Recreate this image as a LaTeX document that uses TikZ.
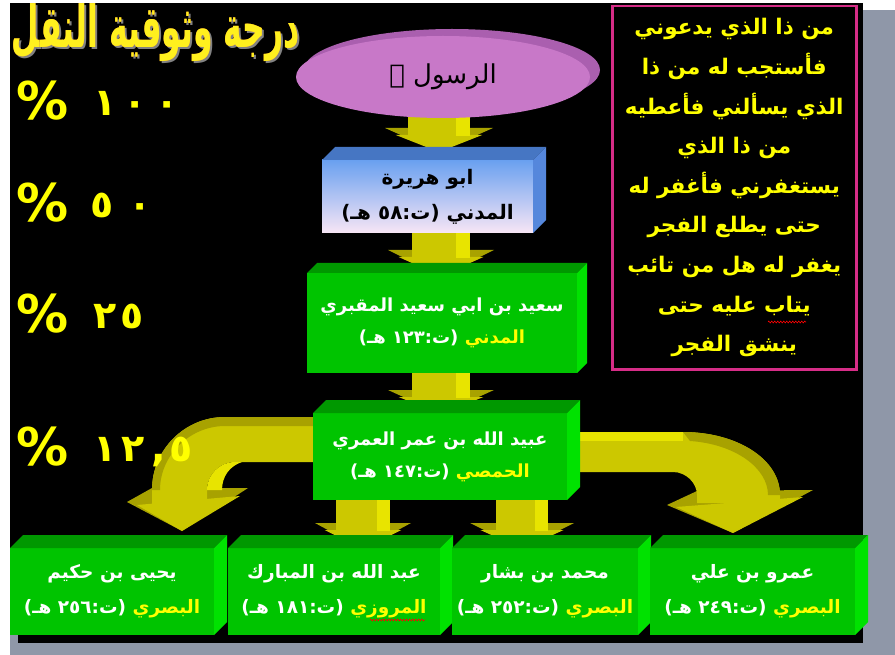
\documentclass[tikz,border=0pt]{standalone}
\usepackage{fontspec}
\usepackage{graphicx}
\usetikzlibrary{fadings,calc,shapes.geometric,decorations.pathmorphing}
\TeXXeTstate=1
\newfontfamily\arfont[Script=Arabic]{DejaVu Sans}
\newfontfamily\numfont{DejaVu Sans}
\newcommand\AR[1]{{\arfont\beginR #1\endR}}
\definecolor{shadowgray}{RGB}{143,151,168}
\definecolor{gfront}{RGB}{0,196,0}
\definecolor{gtop}{RGB}{0,152,0}
\definecolor{gside}{RGB}{0,226,0}
\definecolor{bfronttop}{RGB}{105,160,240}
\definecolor{bfrontbot}{RGB}{248,230,245}
\definecolor{btop}{RGB}{70,118,195}
\definecolor{bside}{RGB}{85,135,220}
\definecolor{arrmain}{RGB}{204,200,0}
\definecolor{arrlight}{RGB}{232,228,0}
\definecolor{arrdark}{RGB}{168,162,0}
\definecolor{ellfront}{RGB}{200,120,200}
\definecolor{ellback}{RGB}{170,95,175}
\definecolor{txtyellow}{RGB}{255,255,0}
\definecolor{framepink}{RGB}{214,45,135}
\definecolor{titleorange}{RGB}{255,145,40}
\definecolor{titleyellow}{RGB}{255,240,30}
\definecolor{titleshadow}{RGB}{130,130,130}
\tikzfading[name=midfade, left color=transparent!100, middle color=transparent!0, right color=transparent!100]
\newcommand\darrow[7]{% cx, ytop, yhead, ytip, hw, HW, lightw
  \fill[arrdark] (#1-#6,#3) -- (#1+#6,#3) -- (#1,#4) -- cycle;
  \fill[arrmain] (#1-#6*0.8,#3+7) -- (#1+#6*0.8,#3+7) -- (#1,#4) -- cycle;
  \fill[arrmain] (#1-#5,#2) rectangle (#1+#5,#3+8);
  \fill[arrlight] (#1+#5-#7,#2) rectangle (#1+#5,#3+8);
}
\newcommand\facesthree[4]{% node, depth, topcolor, sidecolor
  \fill[#3] (#1.north west) -- ++(#2,-#2) -- ($(#1.north east)+(#2,-#2)$) -- (#1.north east) -- cycle;
  \fill[#4] (#1.north east) -- ++(#2,-#2) -- ($(#1.south east)+(#2,-#2)$) -- (#1.south east) -- cycle;
}
\begin{document}
\begin{tikzpicture}[x=1pt,y=-1pt,
  gbox/.style={fill=gfront, text=white, inner sep=0pt, outer sep=0pt, align=center, anchor=north west,
    font=\arfont\bfseries\fontsize{18}{32}\selectfont},
  gboxlow/.style={gbox, font=\arfont\bfseries\fontsize{18.5}{35}\selectfont},
  bbox/.style={top color=bfronttop, bottom color=bfrontbot, text=black, inner sep=0pt, outer sep=0pt,
    align=center, anchor=north west, font=\arfont\bfseries\fontsize{20}{35}\selectfont},
  pctext/.style={text=txtyellow, inner sep=0pt, anchor=base west, font=\numfont\bfseries\fontsize{52}{52}\selectfont},
  titletext/.style={inner sep=0pt, font=\arfont\bfseries},
  versebox/.style={draw=framepink, line width=2.5pt, fill=black, text=txtyellow, inner sep=0pt,
    anchor=north west, align=center, font=\arfont\bfseries\fontsize{21.5}{39.6}\selectfont},
  spell/.style={red, line width=0.6pt, decorate, decoration={zigzag, amplitude=0.9pt, segment length=3pt}}]
\useasboundingbox (0,0) rectangle (895,655);
\fill[white] (0,0) rectangle (895,655);
\fill[shadowgray] (10,10) rectangle (895,655);
\fill[black] (10,3) rectangle (863,635);
\fill[black] (18,560) rectangle (863,643);
% title
\node[titletext, text=titleshadow] (titlesh) at (158,35) {\resizebox*{288pt}{58pt}{\AR{درجة وثوقية النقل}}};
\node[titletext, text=titleorange] (title) at (156,33) {\resizebox*{288pt}{58pt}{\AR{درجة وثوقية النقل}}};
\begin{scope}[scope fading=midfade, fading transform={shift={(156,33)}, xscale=3}]
\node[titletext, text=titleyellow] (titley) at (156,33) {\resizebox*{288pt}{58pt}{\AR{درجة وثوقية النقل}}};
\end{scope}
% verse box
\node[versebox, minimum width=244pt, minimum height=363pt] (verse) at (611,5) {%
\AR{من ذا الذي يدعوني}\\
\AR{فأستجب له من ذا}\\
\AR{الذي يسألني فأعطيه}\\
\AR{من ذا الذي}\\
\AR{يستغفرني فأغفر له}\\
\AR{حتى يطلع الفجر}\\
\AR{يغفر له هل من تائب}\\
\AR{يتاب عليه حتى}\\
\AR{ينشق الفجر}};
% straight arrows
\darrow{439}{100}{128}{152}{31}{54}{14}
\darrow{441}{225}{250}{276}{29}{53}{14}
\darrow{441}{365}{390}{414}{29}{53}{14}
\darrow{363}{495}{523}{549}{27}{48}{13}
\darrow{522}{495}{523}{549}{26}{52}{13}
% left curved arrow
\fill[arrdark] (127,502) -- (152,488) -- (248,488) -- (182,531) -- cycle;
\fill[arrmain] (137,505) -- (240,496) -- (182,531) -- cycle;
\fill[arrmain] (330,417) -- (225,417) .. controls (184.7,417) and (152,449.7) .. (152,490) -- (152,505) -- (207,505) -- (207,490) .. controls (207,474.5) and (219.5,462) .. (235,462) -- (330,462) -- cycle;
\fill[arrdark] (330,417) -- (225,417) .. controls (184.7,417) and (152,449.7) .. (152,490) -- (160,490) .. controls (160,455) and (190,426) .. (225,426) -- (330,426) -- cycle;
\fill[arrlight] (207,490) .. controls (207,474.5) and (219.5,462) .. (235,462) -- (242,462) .. controls (230,466) and (222,476) .. (222,490) -- cycle;
% right curved arrow
\fill[arrdark] (667,505) -- (697,491) -- (813,490) -- (733,533) -- cycle;
\fill[arrmain] (676,507) -- (803,497) -- (733,533) -- cycle;
\fill[arrmain] (560,432) -- (683,432) .. controls (736.5,432) and (780,459) .. (780,495) -- (780,503) -- (697,503) -- (697,495) .. controls (697,483) and (686,472) .. (673,472) -- (560,472) -- cycle;
\fill[arrdark] (683,432) .. controls (736.5,432) and (780,459) .. (780,495) -- (768,495) .. controls (768,468) and (735,444) .. (690,441) -- cycle;
\fill[arrlight] (560,432) rectangle (683,441);
% percentages
\newcommand\dg[2]{\makebox[#1pt][l]{#2}}
\node[pctext] (p100) at (16,120) {\makebox[77pt][l]{\%}\raisebox{4pt}{\fontsize{38}{38}\selectfont\dg{30}{١}\dg{32}{٠}٠}};
\node[pctext] (p50) at (16,222) {\makebox[74pt][l]{\%}\raisebox{4pt}{\fontsize{38}{38}\selectfont\dg{38}{٥}٠}};
\node[pctext] (p25) at (16,333) {\makebox[77pt][l]{\%}\raisebox{4pt}{\fontsize{38}{38}\selectfont\dg{27}{٢}٥}};
\node[pctext] (p125) at (16,465) {\makebox[77pt][l]{\%}\raisebox{4pt}{\fontsize{38}{38}\selectfont\dg{28}{١}\dg{30}{٢}\dg{18}{,}٥}};
% ellipse
\fill[ellback] (452,70) ellipse [x radius=148, y radius=41];
\node[ellipse, fill=ellfront, minimum width=294pt, minimum height=82pt, inner sep=0pt,
  font=\arfont\mdseries\fontsize{26}{26}\selectfont] (rasul) at (443,77) {\AR{الرسول ﷺ}};
% boxes
\node[bbox, minimum width=211pt, minimum height=73pt] (abu) at (322,160) {\AR{ابو هريرة}\\\AR{المدني (ت:٥٨ هـ)}};
\facesthree{abu}{13}{btop}{bside}
\node[gbox, minimum width=270pt, minimum height=100pt] (saeed) at (307,273) {\AR{سعيد بن ابي سعيد المقبري}\\\AR{(ت:١٢٣ هـ)}\ \textcolor{txtyellow}{\AR{المدني}}};
\facesthree{saeed}{10}{gtop}{gside}
\node[gbox, minimum width=254pt, minimum height=87pt] (ubaid) at (313,413) {\AR{عبيد الله بن عمر العمري}\\\AR{(ت:١٤٧ هـ)}\ \textcolor{txtyellow}{\AR{الحمصي}}};
\facesthree{ubaid}{13}{gtop}{gside}
\node[gboxlow, minimum width=204pt, minimum height=87pt] (yahya) at (10,548) {\AR{يحيى بن حكيم}\\\AR{(ت:٢٥٦ هـ)}\ \textcolor{txtyellow}{\AR{البصري}}};
\facesthree{yahya}{13}{gtop}{gside}
\node[gboxlow, minimum width=212pt, minimum height=87pt] (mubarak) at (228,548) {\AR{عبد الله بن المبارك}\\\AR{(ت:١٨١ هـ)}\ \textcolor{txtyellow}{\AR{المروزي}}};
\facesthree{mubarak}{13}{gtop}{gside}
\node[gboxlow, minimum width=186pt, minimum height=87pt] (bashar) at (452,548) {\AR{محمد بن بشار}\\\AR{(ت:٢٥٢ هـ)}\ \textcolor{txtyellow}{\AR{البصري}}};
\facesthree{bashar}{13}{gtop}{gside}
\node[gboxlow, minimum width=205pt, minimum height=87pt] (amr) at (650,548) {\AR{عمرو بن علي}\\\AR{(ت:٢٤٩ هـ)}\ \textcolor{txtyellow}{\AR{البصري}}};
\facesthree{amr}{13}{gtop}{gside}
% spelling marks
\draw[spell] (768,322) -- (806,322);
\draw[spell] (370,620) -- (425,620);
\end{tikzpicture}
\end{document}
